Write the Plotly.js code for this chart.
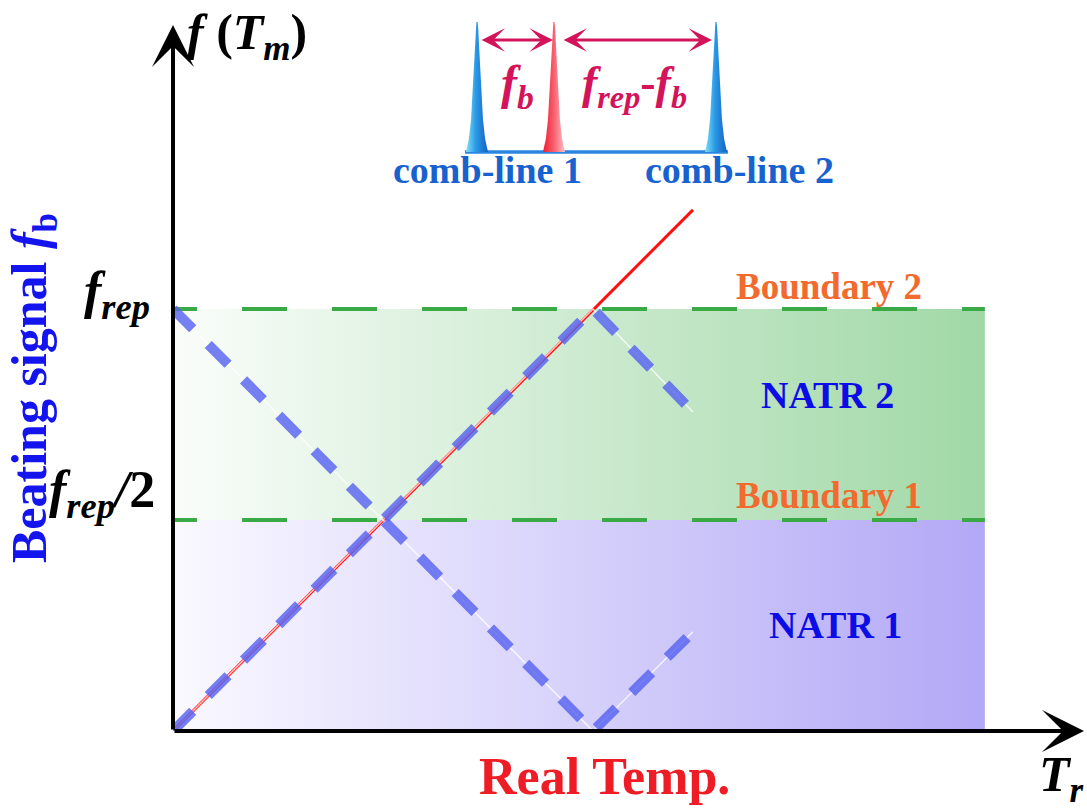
<!DOCTYPE html>
<html><head><meta charset="utf-8">
<script src="https://cdn.plot.ly/plotly-3.0.1.min.js"></script>
<style>html,body{margin:0;padding:0;background:#fff}#chart{width:1087px;height:811px}</style>
</head><body><div id="chart"></div>
<script>
// ---------- DATA (temperature normalised so that f(T)=f_rep at T=1; frequency in units of f_rep)
const redTemp   = [0, 1.238];
const redFreq   = [0, 1.235];
const beatTemp  = [0, 1, 1.238];
const beatFreqA = [0, 1, 0.756];
const beatFreqB = [1, 0, 0.235];
const regionTemp = [0, 1.933];
const boundaryTemp = [-0.05, 1.933];
const natr1Freq = [0, 0.5];
const natr2Freq = [0.5, 1];
const boundaryFreq = [0.5, 1];
const yTickVals = [1, 0.5];
const yTickText = ['<i><b>f</b></i><sub><i><b>rep</b></i></sub>',
                   '<i><b>f</b></i><sub><i><b>rep</b></i></sub><b><i>/</i>2</b>'];
const boundaryLabels = ['Boundary 1', 'Boundary 2'];
const regionLabels = ['NATR 1', 'NATR 2'];
// inset spectrum (position in units of f_rep, comb-line 1 at 0)
const combPos = [0, 1];
const beatPos = [0.322];
const combLabels = ['comb-line 1', 'comb-line 2'];
const peakHalfWidth = [0.046, 0.034, 0.025, 0.017, 0.0105, 0.005, 0.0025];
const peakHeight    = [0, 0.1, 0.25, 0.5, 0.75, 0.95, 1.0];
const baselinePos = [-0.05, 1.05];
const fbArrow = [0.013, 0.318];
const restArrow = [0.356, 0.983];
const arrowLevel = 0.862;

// ---------- layout helpers (pixel -> paper)
const L = 173, R = 1084, T = 10, B = 731;
const SX = 420, SY = 422;
const px = x => (x - L) / (R - L);
const py = y => (B - y) / (B - T);
const FONT = 'Liberation Serif';

function peakShape(c) {
  const xs = [], ys = [];
  for (let i = 0; i < peakHeight.length; i++) { xs.push(c - peakHalfWidth[i]); ys.push(peakHeight[i]); }
  for (let i = peakHeight.length - 1; i >= 0; i--) { xs.push(c + peakHalfWidth[i]); ys.push(peakHeight[i]); }
  return {xs, ys};
}
function rect(x, y) { return {x: [x[0], x[1], x[1], x[0], x[0]], y: [y[0], y[0], y[1], y[1], y[0]]}; }

const traces = [];
const r1 = rect(regionTemp, natr1Freq), r2 = rect(regionTemp, natr2Freq);
traces.push({x: r1.x, y: r1.y, mode: 'lines', fill: 'toself', line: {width: 0},
  fillgradient: {type: 'horizontal', colorscale: [[0, 'rgb(250,249,255)'], [1, 'rgb(178,168,246)']]}, hoverinfo: 'skip'});
traces.push({x: r2.x, y: r2.y, mode: 'lines', fill: 'toself', line: {width: 0},
  fillgradient: {type: 'horizontal', colorscale: [[0, 'rgb(250,253,250)'], [1, 'rgb(160,216,166)']]}, hoverinfo: 'skip'});
boundaryFreq.forEach(f => traces.push({x: boundaryTemp, y: [f, f], mode: 'lines',
  line: {color: '#3aaa46', width: 4, dash: '45px,45px'}, hoverinfo: 'skip'}));
traces.push({x: redTemp, y: redFreq, mode: 'lines', line: {color: '#ff1010', width: 3}, hoverinfo: 'skip'});
[beatFreqA, beatFreqB].forEach(fy => {
  traces.push({x: beatTemp, y: fy, mode: 'lines', line: {color: 'rgba(255,255,255,0.75)', width: 1.5}, hoverinfo: 'skip'});
  traces.push({x: beatTemp, y: fy, mode: 'lines', line: {color: 'rgba(84,96,240,0.8)', width: 10, dash: '28px,22px'}, hoverinfo: 'skip'});
});
// inset
traces.push({x: baselinePos, y: [0, 0], xaxis: 'x2', yaxis: 'y2', mode: 'lines',
  line: {color: '#2a86e0', width: 3.5}, hoverinfo: 'skip'});
combPos.forEach(c => { const p = peakShape(c);
  traces.push({x: p.xs, y: p.ys, xaxis: 'x2', yaxis: 'y2', mode: 'lines', fill: 'toself', line: {width: 0},
    fillgradient: {type: 'horizontal', colorscale: [[0, '#7fe0f8'], [0.45, '#2a9ae6'], [1, '#1560c0']]}, hoverinfo: 'skip'}); });
beatPos.forEach(c => { const p = peakShape(c);
  traces.push({x: p.xs, y: p.ys, xaxis: 'x2', yaxis: 'y2', mode: 'lines', fill: 'toself', line: {width: 0},
    fillgradient: {type: 'horizontal', colorscale: [[0, '#f01c30'], [0.5, '#f8606e'], [1, '#ffc0c8']]}, hoverinfo: 'skip'}); });

const ann = [];
// axes arrows
ann.push({x: 0, y: (B - 25) / SY, ax: 0, ay: 0, axref: 'x', ayref: 'y', xref: 'x', yref: 'y', text: '',
  showarrow: true, arrowhead: 3, arrowsize: 1.75, arrowwidth: 4, arrowcolor: '#000', standoff: 0});
ann.push({x: (R - L) / SX, y: 0, ax: 0, ay: 0, axref: 'x', ayref: 'y', xref: 'x', yref: 'y', text: '',
  showarrow: true, arrowhead: 3, arrowsize: 1.75, arrowwidth: 4, arrowcolor: '#000', standoff: 0});
// inset arrows
[fbArrow, restArrow].forEach(a => ann.push({x: a[1], y: arrowLevel, ax: a[0], ay: arrowLevel,
  xref: 'x2', yref: 'y2', axref: 'x2', ayref: 'y2', text: '', showarrow: true, arrowhead: 3, startarrowhead: 3,
  arrowside: 'end+start', arrowsize: 1.3, startarrowsize: 1.3, arrowwidth: 3, arrowcolor: '#d3145a', standoff: 0, startstandoff: 0}));
// texts
const txt = (text, x, y, size, color, opts) => Object.assign({text, x: px(x), y: py(y), xref: 'paper', yref: 'paper',
  showarrow: false, font: {family: FONT, size, color}, xanchor: 'center', yanchor: 'middle'}, opts || {});
ann.push(txt('<i><b>f</b></i><b> (</b><i><b>T</b></i><sub><i><b>m</b></i></sub><b>)</b>', 185, 36, 50, '#000', {xanchor: 'left'}));
ann.push(txt('<b>Beating signal </b><i><b>f</b></i><sub><b>b</b></sub>', 33, 388, 50, '#1414ee', {textangle: -90}));
ann.push(txt(yTickText[0], 152, 294, 52, '#000', {xanchor: 'right'}));
ann.push(txt(yTickText[1], 157, 494, 52, '#000', {xanchor: 'right'}));
ann.push(txt('<b>Real Temp.</b>', 604, 776, 52, '#ee1c25'));
ann.push(txt('<i><b>T</b></i><sub><i><b>r</b></i></sub>', 1086, 778, 50, '#000', {xanchor: 'right'}));
ann.push(txt('<b>' + boundaryLabels[1] + '</b>', 829, 286, 37, '#f26a2e'));
ann.push(txt('<b>' + boundaryLabels[0] + '</b>', 829, 496, 37, '#f26a2e'));
ann.push(txt('<b>' + regionLabels[1] + '</b>', 827, 395, 38, '#0c0ce6'));
ann.push(txt('<b>' + regionLabels[0] + '</b>', 835, 625, 38, '#0c0ce6'));
ann.push(txt('<b>' + combLabels[0] + '</b>', 487, 170, 38, '#1862cf'));
ann.push(txt('<b>' + combLabels[1] + '</b>', 739, 170, 38, '#1862cf'));
ann.push(txt('<i><b>f</b></i><sub><i><b>b</b></i></sub>', 517, 86, 48, '#d3145a'));
ann.push(txt('<i><b>f</b></i><sub><i><b>rep</b></i></sub><b>-</b><i><b>f</b></i><sub><i><b>b</b></i></sub>', 634, 86, 46, '#d3145a'));

const layout = {
  width: 1087, height: 811, showlegend: false,
  margin: {l: L, r: 1087 - R, t: T, b: 811 - B, pad: 0},
  paper_bgcolor: '#fff', plot_bgcolor: '#fff',
  xaxis: {range: [0, (R - L) / SX], visible: false, fixedrange: true},
  yaxis: {range: [0, (B - T) / SY], visible: false, fixedrange: true},
  xaxis2: {domain: [px(440), px(760)], range: [(440 - 477) / 239, (760 - 477) / 239], anchor: 'y2', visible: false, fixedrange: true},
  yaxis2: {domain: [py(160), py(12)], range: [(152 - 160) / 130, (152 - 12) / 130], anchor: 'x2', visible: false, fixedrange: true},
  annotations: ann
};
Plotly.newPlot('chart', traces, layout, {staticPlot: true, displayModeBar: false});
</script></body></html>
